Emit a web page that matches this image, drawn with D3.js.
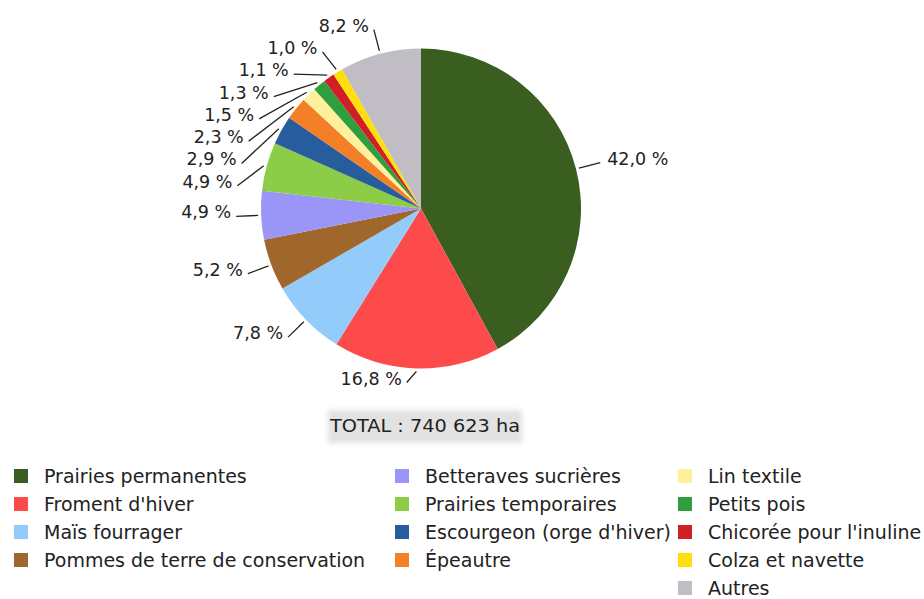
<!DOCTYPE html>
<html>
<head>
<meta charset="utf-8">
<script src="https://cdn.jsdelivr.net/npm/d3@7"></script>
<style>
  html, body { margin: 0; padding: 0; background: #fff; }
  svg { display: block; }
  text { font-family: "DejaVu Sans", sans-serif; fill: #222; }
</style>
</head>
<body>
<svg id="chart" width="924" height="599"></svg>
<script>
// Crop areas (share of total, %)
const categories = [
  "Prairies permanentes", "Froment d'hiver", "Maïs fourrager",
  "Pommes de terre de conservation", "Betteraves sucrières",
  "Prairies temporaires", "Escourgeon (orge d'hiver)", "Épeautre",
  "Lin textile", "Petits pois", "Chicorée pour l'inuline",
  "Colza et navette", "Autres"
];
const shares = [42.0, 16.8, 7.8, 5.2, 4.9, 4.9, 2.9, 2.3, 1.5, 1.3, 1.1, 1.0, 8.2];
const colors = [
  "#3a5e1f", "#fd4b4b", "#93cbfb", "#9f672c", "#9a95f7",
  "#8ccc47", "#275d9c", "#f37f27", "#fff09c", "#2f9e3d",
  "#d02027", "#ffdf0a", "#c0bec4"
];
const totalLabel = "TOTAL : 740 623 ha";

const svg = d3.select("#chart");
const cx = 421, cy = 208.5, R = 160, RL = 185;

const fmt = v => d3.format(".1f")(v).replace(".", ",") + " %";
const color = d3.scaleOrdinal().domain(categories).range(colors);

const pie = d3.pie().sort(null).value(d => d.v);
const data = categories.map((c, i) => ({ c, v: shares[i] }));
const arcs = pie(data);
const arc = d3.arc().innerRadius(0).outerRadius(R);

const g = svg.append("g").attr("transform", `translate(${cx},${cy})`);
g.selectAll("path.slice").data(arcs).join("path")
  .attr("class", "slice")
  .attr("d", arc)
  .attr("fill", d => color(d.data.c));

// Label placement: natural point on a larger circle, then push left-side
// labels apart vertically so they do not overlap.
const labels = arcs.map(a => {
  const m = (a.startAngle + a.endAngle) / 2;
  return {
    a, m,
    left: Math.sin(m) < 0,
    ex: (R + 3) * Math.sin(m), ey: -(R + 3) * Math.cos(m),
    x: RL * Math.sin(m), y: -RL * Math.cos(m)
  };
});
const gap = 22.3, maxY = 174;
const leftSide = labels.filter(l => l.left).sort((p, q) => p.y - q.y);
for (let i = 1; i < leftSide.length; i++) {
  const prev = leftSide[i - 1], cur = leftSide[i];
  if (cur.y < prev.y + gap) {
    cur.y = prev.y + gap;
    cur.pushed = true;
  }
}
leftSide.forEach(l => {
  if (l.y > maxY) { l.y = maxY; l.x -= 9; }
  if (l.pushed && Math.abs(l.y) < RL) l.x = -Math.sqrt(RL * RL - l.y * l.y);
});

g.selectAll("line.lead").data(labels).join("line")
  .attr("class", "lead")
  .attr("x1", d => d.ex).attr("y1", d => d.ey)
  .attr("x2", d => d.x).attr("y2", d => d.y)
  .attr("stroke", "#222").attr("stroke-width", 1.3);

g.selectAll("text.lab").data(labels).join("text")
  .attr("class", "lab")
  .attr("x", d => d.x + (d.left ? -5 : 7))
  .attr("y", d => d.y + 2)
  .attr("text-anchor", d => d.left ? "end" : "start")
  .style("font-size", "17.5px")
  .text(d => fmt(d.a.data.v));

// Total box with a soft grey background
const defs = svg.append("defs");
defs.append("filter").attr("id", "soft")
  .attr("x", "-20%").attr("y", "-40%").attr("width", "140%").attr("height", "180%")
  .append("feGaussianBlur").attr("stdDeviation", 2.5);
const tg = svg.append("g").attr("transform", "translate(425,426)");
tg.append("rect")
  .attr("x", -97).attr("y", -16).attr("width", 194).attr("height", 33)
  .attr("fill", "#e2e2e2").attr("filter", "url(#soft)");
tg.append("text")
  .attr("text-anchor", "middle").attr("dy", "0.35em")
  .attr("textLength", 190).attr("lengthAdjust", "spacingAndGlyphs")
  .style("font-size", "17px")
  .text(totalLabel);

// Legend in three columns
const colX = [14, 395, 678];
const rowY = 476, rowH = 28;
const colOf = i => i < 4 ? 0 : (i < 8 ? 1 : 2);
const rowOf = i => i < 4 ? i : (i < 8 ? i - 4 : i - 8);
const lg = svg.append("g");
const items = lg.selectAll("g.item").data(categories).join("g")
  .attr("class", "item")
  .attr("transform", (d, i) => `translate(${colX[colOf(i)]},${rowY + rowOf(i) * rowH})`);
items.append("rect")
  .attr("x", 0).attr("y", -7).attr("width", 14).attr("height", 14)
  .attr("fill", d => color(d));
items.append("text")
  .attr("x", 30).attr("dy", "0.35em")
  .style("font-size", "19px")
  .text(d => d);
</script>
</body>
</html>
